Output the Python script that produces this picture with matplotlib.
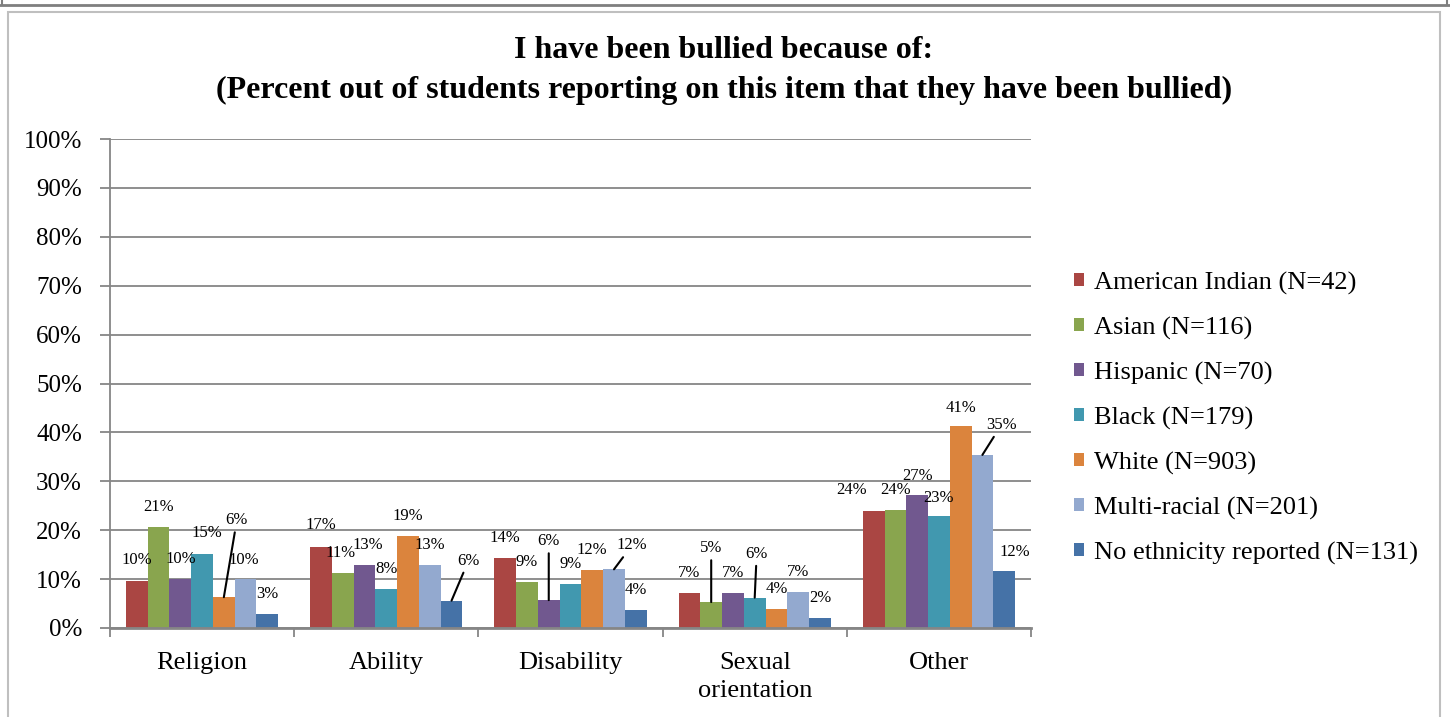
import numpy as np
import matplotlib
matplotlib.use("Agg")
import matplotlib.pyplot as plt
from matplotlib.patches import Patch, Rectangle
from matplotlib.lines import Line2D

plt.rcParams['font.family'] = ['Liberation Serif', 'DejaVu Serif']

categories = ["Religion", "Ability", "Disability", "Sexual\norientation", "Other"]
groups = ["American Indian (N=42)", "Asian (N=116)", "Hispanic (N=70)",
          "Black (N=179)", "White (N=903)", "Multi-racial (N=201)",
          "No ethnicity reported (N=131)"]

# percent of students, per category
american_indian = [9.6, 16.6, 14.4, 7.2, 23.9]
asian = [20.7, 11.2, 9.4, 5.3, 24.2]
hispanic = [10.0, 12.9, 5.7, 7.2, 27.2]
black = [15.1, 8.0, 9.1, 6.2, 23.0]
white = [6.3, 18.8, 11.9, 3.9, 41.4]
multi_racial = [10.0, 12.9, 12.0, 7.4, 35.4]
no_ethnicity = [2.9, 5.6, 3.7, 2.0, 11.6]

series = [american_indian, asian, hispanic, black, white, multi_racial, no_ethnicity]
colors = ["#AA4643", "#89A54E", "#71588F", "#4198AF", "#DB843D", "#93A9CF", "#4572A7"]

# label placement (pixels from bar top), default is straight above
label_offsets = {
    (0, 0): (0, 21), (0, 3): (5, 21), (0, 4): (13, 77), (0, 5): (-2, 19),
    (1, 0): (0, 22), (1, 1): (-2, 20), (1, 2): (3, 20), (1, 6): (17, 40),
    (2, 2): (0, 59), (2, 5): (18, 24),
    (3, 1): (0, 54), (3, 3): (2, 44),
    (4, 0): (-22, 21), (4, 2): (0, 19), (4, 3): (0, 18), (4, 4): (0, 18),
    (4, 5): (19, 30), (4, 6): (11, 19),
}
leaders = {(0, 4), (1, 6), (2, 2), (2, 5), (3, 1), (3, 3), (4, 5)}

W, H = 1450, 717
fig = plt.figure(figsize=(W / 100, H / 100), dpi=100)
ax = fig.add_axes([110 / W, 1 - 628 / H, (1031 - 110) / W, (628 - 139) / H])

grid_col = "#868686"
x = np.arange(len(categories))
n = len(series)
bw = 1 / (n + 1.47)

for j, (vals, col) in enumerate(zip(series, colors)):
    xs = x + (j - (n - 1) / 2) * bw
    ax.bar(xs, vals, width=bw, color=col, edgecolor="none", zorder=2)
    for i, v in enumerate(vals):
        dx, dy = label_offsets.get((i, j), (0, 20))
        kw = {}
        if (i, j) in leaders:
            kw["arrowprops"] = dict(arrowstyle="-", color="black", lw=1.5,
                                    shrinkA=1, shrinkB=0)
        ax.annotate(f"{round(v)}%", xy=(xs[i], v), xytext=(dx, dy),
                    textcoords="offset pixels", ha="center", va="center",
                    fontsize=12, **kw)

ax.set_xlim(-0.5, len(categories) - 0.5)
ax.set_ylim(0, 100)
ax.set_yticks(np.arange(0, 101, 10))
ax.set_yticklabels([f"{t}%" for t in range(0, 101, 10)])
ax.yaxis.grid(True, color=grid_col, lw=1.3)
ax.set_axisbelow(True)

ax.set_xticks(x)
ax.set_xticklabels(categories, fontsize=19, linespacing=1.35)
ax.set_xticks(np.arange(-0.5, len(categories)), minor=True)
ax.tick_params(axis="x", which="major", length=0, pad=17)
ax.tick_params(axis="x", which="minor", length=6.5, width=1.3, color=grid_col)
ax.tick_params(axis="y", length=7.2, width=1.3, color=grid_col, labelsize=18, pad=13)

for s in ["top", "right"]:
    ax.spines[s].set_visible(False)
ax.spines["left"].set_color(grid_col)
ax.spines["left"].set_linewidth(1.3)
ax.spines["bottom"].set_color(grid_col)
ax.spines["bottom"].set_linewidth(2)

handles = [Patch(facecolor=c, edgecolor="none") for c in colors]
ax.legend(handles, groups, loc="center left",
          bbox_to_anchor=(1074 / W, 1 - 418 / H), bbox_transform=fig.transFigure,
          frameon=False, fontsize=19, handlelength=0.38, handleheight=0.38,
          handletextpad=0.38, labelspacing=0.83, borderpad=0, borderaxespad=0)

fig.text(724 / W, 1 - 50 / H, "I have been bullied because of:",
         ha="center", va="center", fontsize=23, fontweight="bold")
fig.text(724 / W, 1 - 90 / H,
         "(Percent out of students reporting on this item that they have been bullied)",
         ha="center", va="center", fontsize=23, fontweight="bold")

# surrounding frames
fig.add_artist(Rectangle((8 / W, -0.1), (1440 - 8) / W, 1.1 - 12 / H,
                         transform=fig.transFigure, fill=False,
                         edgecolor="#bfbfbf", lw=1.5))
fig.add_artist(Line2D([0, 1], [1 - 5 / H] * 2, transform=fig.transFigure,
                      color="#7f7f7f", lw=2))
for px in (2, 1447):
    fig.add_artist(Line2D([px / W] * 2, [1 - 5 / H, 1], transform=fig.transFigure,
                          color="#7f7f7f", lw=1.5))

fig.savefig("out.png", dpi=100)
